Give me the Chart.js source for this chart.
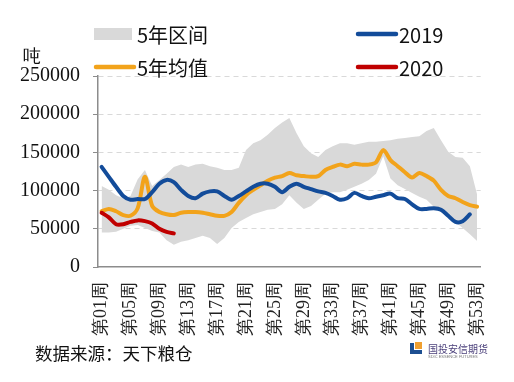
<!DOCTYPE html>
<html><head><meta charset="utf-8">
<script src="https://cdn.jsdelivr.net/npm/chart.js@4/dist/chart.umd.min.js"></script>
<style>
html,body{margin:0;padding:0;background:#fff;}
#wrap{position:relative;width:514px;height:382px;overflow:hidden;background:#fff;}
#c{position:absolute;left:0;top:0;}
.unit{position:absolute;left:23px;top:44px;font:18px 'Liberation Serif',serif;color:#111;}
.src{position:absolute;left:35px;top:340px;font:17.5px 'Noto Sans CJK SC',sans-serif;color:#111;white-space:nowrap;}
.logo{position:absolute;left:410px;top:341px;width:75px;height:20px;}
.logo .ic1{position:absolute;left:0;top:2px;width:12px;height:11px;background:#1d4f91;}
.logo .ic2{position:absolute;left:4px;top:2px;width:8px;height:7px;background:#fff;}
.logo .ic3{position:absolute;left:5px;top:1px;width:7px;height:7px;background:#f0a030;}
.logo .t1{position:absolute;left:18px;top:0px;font:10px 'Noto Sans CJK SC',sans-serif;color:#4a3f7a;white-space:nowrap;}
.logo .t2{position:absolute;left:18px;top:13px;font:4px 'Liberation Sans',sans-serif;color:#777;white-space:nowrap;}
</style></head>
<body>
<div id="wrap">
<canvas id="c" width="514" height="382"></canvas>
<div class="unit">吨</div>
<div class="src">数据来源：天下粮仓</div>
<div class="logo"><div class="ic1"></div><div class="ic2"></div><div class="ic3"></div><div class="t1">国投安信期货</div><div class="t2">SDIC ESSENCE FUTURES</div></div>
</div>
<script>
const weeks = ['第01周','第02周','第03周','第04周','第05周','第06周','第07周','第08周','第09周','第10周',
'第11周','第12周','第13周','第14周','第15周','第16周','第17周','第18周','第19周','第20周',
'第21周','第22周','第23周','第24周','第25周','第26周','第27周','第28周','第29周','第30周',
'第31周','第32周','第33周','第34周','第35周','第36周','第37周','第38周','第39周','第40周',
'第41周','第42周','第43周','第44周','第45周','第46周','第47周','第48周','第49周','第50周',
'第51周','第52周','第53周'];

const rangeLow = [45000,45000,46000,50000,54000,55000,51000,47000,45000,35000,
29000,33000,35000,38000,41000,38000,30000,38000,51000,59000,
64000,69000,72000,75000,76000,82000,94000,84000,76000,80000,
88000,96000,98000,98000,101000,105000,109000,114000,122000,145000,
116000,107000,102000,97000,92000,88000,79000,72000,65000,59000,
51000,43000,34000];

const rangeHigh = [106000,101000,94000,90000,93000,115000,127000,106000,114000,122000,
131000,134000,131000,134000,135000,132000,130000,127000,127000,130000,
153000,162000,166000,173000,182000,189000,195000,175000,158000,149000,
144000,153000,158000,162000,162000,160000,162000,164000,164000,165000,
166000,168000,169000,170000,171000,178000,182000,166000,151000,144000,
143000,132000,95000];

const avg5 = [73000,76000,73000,68000,67000,77000,118000,80000,72000,69000,
68000,71000,72000,72000,71000,69000,67000,67000,72000,84000,
94000,101000,107000,113000,117000,119000,123000,120000,119000,118000,
119000,127000,131000,134000,132000,135000,134000,134000,137000,153000,
140000,132000,124000,117000,123000,119000,113000,101000,93000,90000,
85000,81000,79000];

const y2019 = [131000,118000,105000,93000,88000,89000,89000,98000,109000,114000,
111000,101000,93000,90000,96000,99000,99000,93000,88000,93000,
99000,105000,109000,109000,105000,98000,105000,109000,105000,102000,
99000,97000,93000,88000,90000,97000,93000,90000,92000,94000,
96000,90000,89000,82000,76000,76000,77000,75000,67000,59000,
60000,69000];

const y2020 = [71000,65000,56000,56000,59000,61000,60000,57000,50000,46000,44000];

const yTicks = [0,50000,100000,150000,200000,250000];

const GREY='#d9d9d9', ORANGE='#f2a31b', BLUE='#134c9a', RED='#c00000';
const SERIF = "'Liberation Serif', 'Times New Roman', serif";

const legendPlugin = {
  id:'customLegend',
  afterDraw(chart){
    const ctx = chart.ctx;
    const ds = chart.data.datasets;
    ctx.save();
    ctx.font = "20px 'Noto Sans CJK SC', sans-serif";
    ctx.textBaseline = 'middle';
    ctx.textAlign = 'left';
    const items = [
      {i:1, box:true, x:94, y:34},
      {i:2, x:94, y:67},
      {i:3, x:356, y:34},
      {i:4, x:356, y:67}
    ];
    items.forEach(it=>{
      const d = ds[it.i];
      if(it.box){
        ctx.fillStyle = d.backgroundColor;
        ctx.fillRect(it.x, it.y-6, 38, 12);
      } else {
        ctx.strokeStyle = d.borderColor;
        ctx.lineWidth = 4.5;
        ctx.lineCap = 'round';
        ctx.beginPath(); ctx.moveTo(it.x+2, it.y); ctx.lineTo(it.x+40, it.y); ctx.stroke();
      }
      ctx.fillStyle = '#111';
      ctx.fillText(d.label, it.x+43, it.y+1);
    });
    ctx.restore();
  }
};

new Chart(document.getElementById('c'), {
  type:'line',
  data:{
    labels: weeks,
    datasets:[
      {label:'5年区间下限', data: rangeLow, borderWidth:0, pointRadius:0, fill:false, backgroundColor:GREY, borderColor:'rgba(0,0,0,0)', order:5, tension:0},
      {label:'5年区间', data: rangeHigh, borderWidth:0, pointRadius:0, fill:'-1', backgroundColor:GREY, borderColor:'rgba(0,0,0,0)', order:4, tension:0},
      {label:'5年均值', data: avg5, borderColor:ORANGE, backgroundColor:ORANGE, borderWidth:4, pointRadius:0, fill:false, order:3, tension:0.3, borderCapStyle:'round', borderJoinStyle:'round'},
      {label:'2019', data: y2019, borderColor:BLUE, backgroundColor:BLUE, borderWidth:4, pointRadius:0, fill:false, order:2, tension:0.3, borderCapStyle:'round', borderJoinStyle:'round'},
      {label:'2020', data: y2020, borderColor:RED, backgroundColor:RED, borderWidth:4, pointRadius:0, fill:false, order:1, tension:0.3, borderCapStyle:'round', borderJoinStyle:'round'}
    ]
  },
  options:{
    responsive:false,
    animation:false,
    devicePixelRatio:1,
    layout:{padding:{left:7, right:32, top:76, bottom:31}},
    plugins:{legend:{display:false}, tooltip:{enabled:false}, filler:{propagate:false}},
    scales:{
      x:{
        type:'category',
        offset:true,
        grid:{display:false, drawTicks:false},
        border:{display:true, color:'#8c8c8c', width:1.5},
        ticks:{
          autoSkip:false, minRotation:90, maxRotation:90, padding:15,
          color:'#222',
          font:{family:SERIF, size:18},
          callback:function(v,i){ return i%4===0 ? weeks[i] : ''; }
        }
      },
      y:{
        min:0, max:250000,
        afterBuildTicks:function(s){ s.ticks = yTicks.map(v=>({value:v})); },
        grid:{
          color:function(c){ return c.tick && c.tick.value===0 ? 'rgba(0,0,0,0)' : '#d9d9d9'; },
          lineWidth:1, drawTicks:true, tickLength:5, tickColor:'#8c8c8c', tickBorderDash:[]
        },
        border:{display:true, color:'#8c8c8c', width:1.5, dash:[5,4]},
        ticks:{
          padding:13, color:'#111',
          font:{family:SERIF, size:20},
          callback:function(v){ return String(v); }
        }
      }
    }
  },
  plugins:[legendPlugin]
});
</script>
</body></html>
